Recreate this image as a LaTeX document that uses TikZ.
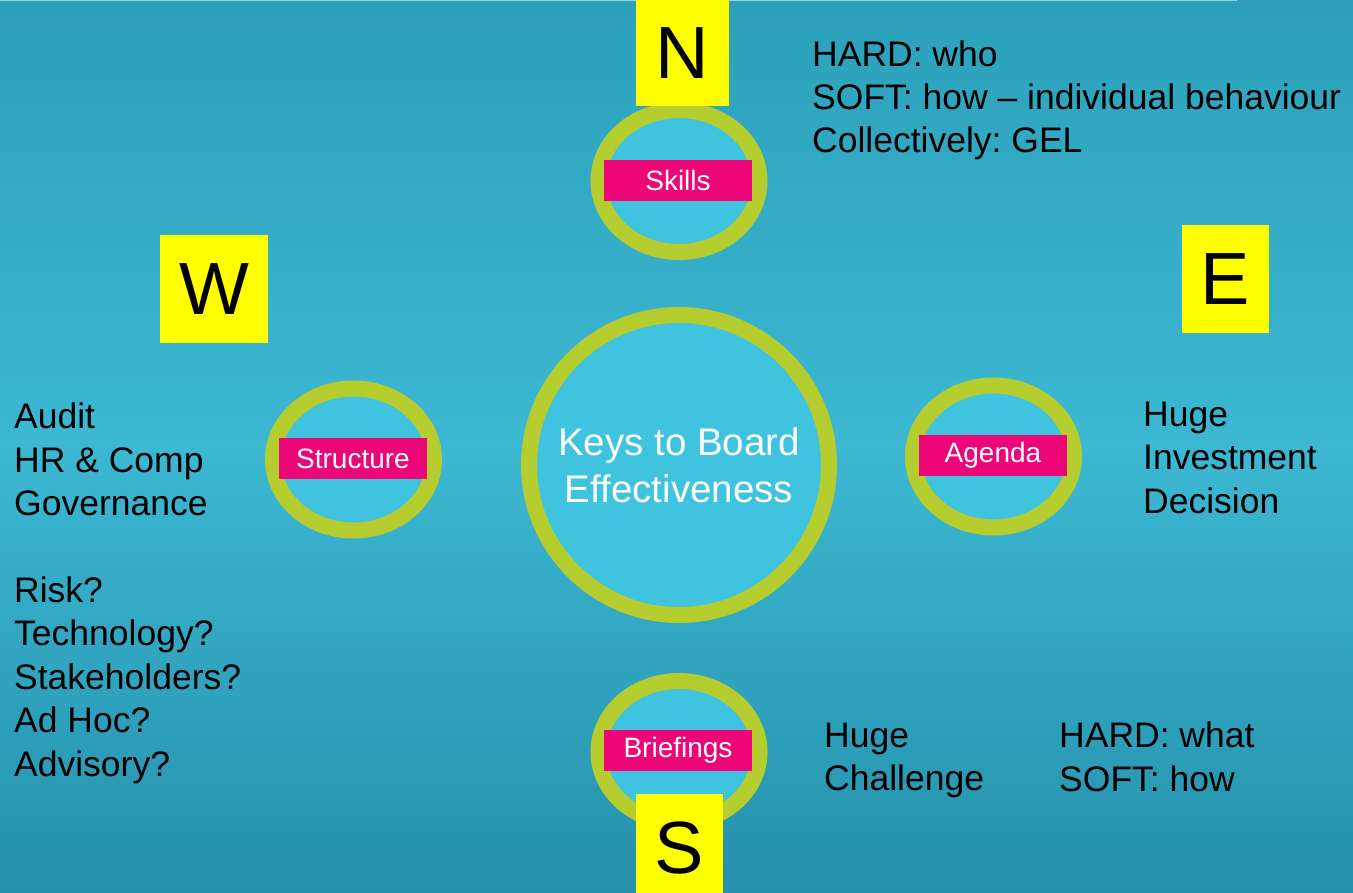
\documentclass[tikz,border=0pt]{standalone}
\usepackage{fontspec}
\setmainfont{Liberation Sans}
\usepackage{xcolor}
\usepackage{tikz}
\definecolor{boardteal}{RGB}{60, 184, 211}
\definecolor{boardtealtop}{RGB}{44, 160, 186}
\definecolor{boardtealdeep}{RGB}{37, 144, 171}
\definecolor{topline}{RGB}{150, 210, 222}
\definecolor{ringlime}{RGB}{181, 205, 46}
\definecolor{discblue}{RGB}{64, 195, 223}
\definecolor{tagpink}{RGB}{236, 6, 119}
\definecolor{compassyellow}{RGB}{255, 255, 0}
\usetikzlibrary{shapes.geometric, positioning}
\frenchspacing

\begin{document}
\begin{tikzpicture}[
    x=1pt, y=-1pt,
    ring/.style={ellipse, draw=ringlime, line width=16pt, fill=discblue,
                 minimum width=161pt, minimum height=142pt, inner sep=0pt},
    tag/.style={rectangle, fill=tagpink, text=white, minimum width=148pt, minimum height=41pt,
                inner sep=0pt, font=\fontsize{28}{33}\selectfont},
    compass/.style={rectangle, fill=compassyellow, minimum height=108pt, inner sep=0pt,
                    font=\fontsize{74}{88}\selectfont},
    notes/.style={anchor=base west, align=left, inner sep=0pt, font=\fontsize{35.5}{43.4}\selectfont}
]
    % Background (light band in the middle)
    \shade[top color=boardtealtop, bottom color=boardteal] (0,0) rectangle (1353,447);
    \shade[top color=boardteal, bottom color=boardtealdeep] (0,446) rectangle (1353,893);
    \useasboundingbox (0,0) rectangle (1353,893);
    \draw[topline, line width=1.5pt] (0,0.75) -- (1237,0.75);

    % Centre and the four keys
    \node[circle, draw=ringlime, line width=16pt, fill=discblue, minimum size=300pt, inner sep=0pt,
          align=center, text=white, font=\fontsize{38.5}{47.3}\selectfont] (keys) at (679,465)
          {Keys to Board\\Effectiveness};
    \node[ring] (skills) at (679,181) {};
    \node[ring] (structure) at (353.5,459.5) {};
    \node[ring] (agenda) at (993.5,456.5) {};
    \node[ring] (briefings) at (679,752) {};

    % Compass points
    \node[compass, minimum width=93pt, minimum height=106pt] (north) at (682.5,53) {N};
    \node[compass, minimum width=108pt] (west) at (214,289) {W};
    \node[compass, minimum width=87pt] (east) at (1225.5,279) {E};
    \node[compass, minimum width=87pt] (south) at (679.5,848) {S};

    % Labels
    \node[tag] (skillstag) at (678,180.5) {Skills};
    \node[tag] (structuretag) at (353,458.5) {Structure};
    \node[tag] (agendatag) at (993,455.5) {Agenda};
    \node[tag] (briefingstag) at (678,750.5) {Briefings};

    % Notes (placed by the baseline of their last line)
    \node[notes] (skillsnotes) at (812,153)
        {HARD: who\\SOFT: how -- individual behaviour\\Collectively: GEL};
    \node[notes] (structurenotes) at (14,776)
        {Audit\\HR \& Comp\\Governance\\[43.4pt]Risk?\\Technology?\\Stakeholders?\\Ad Hoc?\\Advisory?};
    \node[notes] (agendanotes) at (1143,513)
        {Huge\\Investment\\Decision};
    \node[notes] (briefingsnotes) at (824,790.7)
        {Huge\\Challenge};
    \node[notes] (briefingshardsoft) at (1059,791)
        {HARD: what\\SOFT: how};
\end{tikzpicture}
\end{document}
